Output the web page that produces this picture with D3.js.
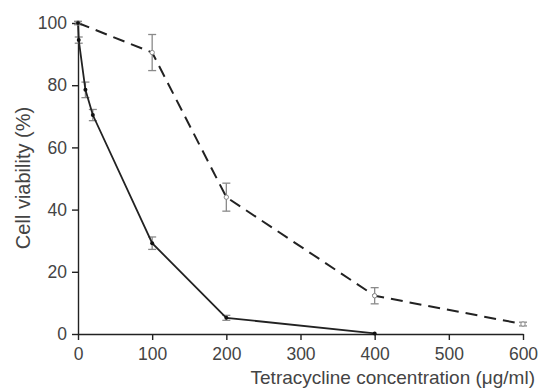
<!DOCTYPE html>
<html>
  <head>
    <meta charset="utf-8">
    <title>cell viability</title>
    <script type="text/javascript" src="https://cdn.jsdelivr.net/npm/d3@7"></script>
    <style type="text/css">
      body { margin: 0; background: #fff; }
      .axis path, .axis line { fill: none; stroke: #222; stroke-width: 1.4px; }
      .axis text { font-family: "Liberation Sans", Arial, sans-serif; font-size: 17.5px; fill: #444; }
      .title { font-family: "Liberation Sans", Arial, sans-serif; fill: #444; }
    </style>
  </head>
  <body>
    <script type="text/javascript">
      var w = 540, h = 390;
      var margin = {top: 23, right: 17, bottom: 56, left: 78};

      // solid series
      var solidX = [0, 1, 10, 20, 100, 200, 400];
      var solidY = [100, 94.5, 78.5, 70.4, 29.2, 5.2, 0.2];
      var solidErr = [0.5, 1, 2.5, 1.8, 2, 0.8, 0.2];

      // dashed series
      var dashX = [0, 100, 200, 400, 600];
      var dashY = [100, 90.5, 44, 12.3, 3.2];
      var dashErr = [0.5, 5.8, 4.5, 2.6, 0.6];

      var xTicks = [0, 100, 200, 300, 400, 500, 600];
      var yTicks = [0, 20, 40, 60, 80, 100];

      var solid = solidX.map(function(x, i) { return {x: x, y: solidY[i], e: solidErr[i]}; });
      var dashed = dashX.map(function(x, i) { return {x: x, y: dashY[i], e: dashErr[i]}; });

      var x = d3.scaleLinear().domain([0, 600]).range([margin.left, w - margin.right]);
      var y = d3.scaleLinear().domain([0, 100]).range([h - margin.bottom, margin.top]);

      var svg = d3.select("body").append("svg").attr("width", w).attr("height", h);

      svg.append("g")
        .attr("class", "axis")
        .attr("transform", "translate(0," + (h - margin.bottom) + ")")
        .call(d3.axisBottom(x).tickValues(xTicks).tickSize(6).tickSizeOuter(0).tickPadding(8));

      svg.append("g")
        .attr("class", "axis")
        .attr("transform", "translate(" + margin.left + ",0)")
        .call(d3.axisLeft(y).tickValues(yTicks).tickSize(6).tickSizeOuter(0).tickPadding(5));

      var line = d3.line().x(function(d) { return x(d.x); }).y(function(d) { return y(d.y); });

      function drawErr(data) {
        var g = svg.append("g").attr("stroke", "#8a8a8a").attr("stroke-width", 1.3);
        data.forEach(function(d) {
          if (d.e < 0.3) return;
          var cx = x(d.x), t = y(d.y + d.e), b = y(d.y - d.e);
          g.append("line").attr("x1", cx).attr("x2", cx).attr("y1", t).attr("y2", b);
          g.append("line").attr("x1", cx - 4).attr("x2", cx + 4).attr("y1", t).attr("y2", t);
          g.append("line").attr("x1", cx - 4).attr("x2", cx + 4).attr("y1", b).attr("y2", b);
        });
      }

      drawErr(dashed);
      drawErr(solid);

      svg.append("path").datum(dashed)
        .attr("d", line).attr("fill", "none")
        .attr("stroke", "#222").attr("stroke-width", 2)
        .attr("stroke-dasharray", "12,7");

      svg.append("path").datum(solid)
        .attr("d", line).attr("fill", "none")
        .attr("stroke", "#222").attr("stroke-width", 1.8);

      svg.selectAll(".dpt").data(dashed).enter().append("circle")
        .attr("cx", function(d) { return x(d.x); })
        .attr("cy", function(d) { return y(d.y); })
        .attr("r", 2.2).attr("fill", "#fff").attr("stroke", "#888").attr("stroke-width", 1);

      svg.selectAll(".spt").data(solid).enter().append("circle")
        .attr("cx", function(d) { return x(d.x); })
        .attr("cy", function(d) { return y(d.y); })
        .attr("r", 2).attr("fill", "#111");

      svg.append("text").attr("class", "title")
        .attr("x", w - 5).attr("y", h - 6)
        .attr("text-anchor", "end").attr("font-size", "19px")
        .text("Tetracycline concentration (μg/ml)");

      svg.append("text").attr("class", "title")
        .attr("transform", "translate(30," + 178 + ") rotate(-90)")
        .attr("text-anchor", "middle").attr("font-size", "20px")
        .text("Cell viability (%)");
    </script>
  </body>
</html>
